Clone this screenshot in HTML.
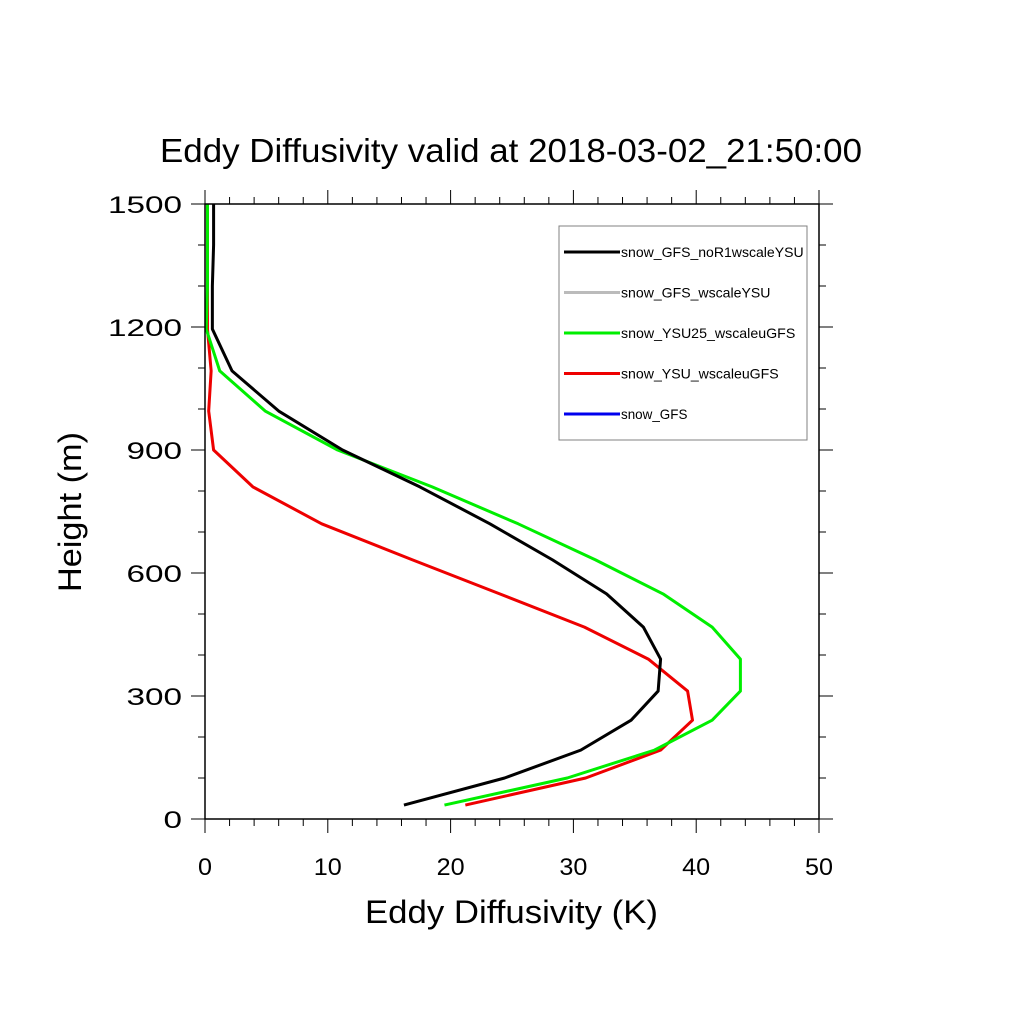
<!DOCTYPE html>
<html><head><meta charset="utf-8"><style>
html,body{margin:0;padding:0;background:#fff}
svg text{font-family:"Liberation Sans",sans-serif}
</style></head><body>
<svg id="chart" width="1024" height="1024" viewBox="0 0 1024 1024" xmlns="http://www.w3.org/2000/svg">
<rect width="1024" height="1024" fill="#fff"/>
<text x="160" y="162" font-size="33" textLength="702" lengthAdjust="spacingAndGlyphs">Eddy Diffusivity valid at 2018-03-02_21:50:00</text>
<g id="axes"></g>
<g id="series"></g>
<rect x="205" y="204" width="614" height="615" fill="none" stroke="#000" stroke-width="1.5"/>
<text x="365" y="923" font-size="32" textLength="293" lengthAdjust="spacingAndGlyphs">Eddy Diffusivity (K)</text>
<text transform="translate(81,592) rotate(-90)" font-size="32" textLength="160" lengthAdjust="spacingAndGlyphs">Height (m)</text>
<g>
<rect x="559" y="226" width="248" height="214" fill="#fff" stroke="#808080" stroke-width="1"/>
<g id="legend-items"></g>
</g>
</svg>
<script>
const heights=[34,100,168,241,312,390,468,549,632,720,810,900,995,1093,1195,1300,1400,1500];
const blackVals=[16.2,24.4,30.6,34.7,36.9,37.1,35.7,32.7,28.3,23.2,17.5,11.2,6.0,2.2,0.6,0.6,0.7,0.7];
const greenVals=[19.5,29.5,36.6,41.3,43.6,43.6,41.3,37.3,31.8,25.5,18.5,10.8,4.9,1.2,0.1,0.2,0.2,0.2];
const redVals=[21.2,31.0,37.1,39.7,39.3,36.1,30.9,24.0,16.9,9.5,3.9,0.7,0.3,0.5,0.2,0.2,0.2,0.2];
const xTicks=[0,10,20,30,40,50];
const yTicks=[0,300,600,900,1200,1500];
const legendNames=["snow_GFS_noR1wscaleYSU","snow_GFS_wscaleYSU","snow_YSU25_wscaleuGFS","snow_YSU_wscaleuGFS","snow_GFS"];
const legendColors=["#000","#bbb","#00ee00","#ee0000","#0000ee"];
const NS="http://www.w3.org/2000/svg";
const X=v=>205+v*614/50, Y=v=>819-v*615/1500;
function mk(t,a,p){const e=document.createElementNS(NS,t);for(const k in a)e.setAttribute(k,a[k]);p.appendChild(e);return e;}
const ax=document.getElementById('axes');
for(let v=0;v<=50;v+=2){const maj=v%10===0,L=maj?14:7,x=X(v);
const t1=mk('line',{x1:x,x2:x,y1:819,y2:819+L,stroke:'#000','stroke-width':1},ax);

const t2=mk('line',{x1:x,x2:x,y1:204,y2:204-L,stroke:'#000','stroke-width':1},ax);
}
for(let v=0;v<=1500;v+=100){const maj=v%300===0,L=maj?14:7,y=Y(v);
const t1=mk('line',{x1:205,x2:205-L,y1:y,y2:y,stroke:'#000','stroke-width':1},ax);

const t2=mk('line',{x1:819,x2:819+L,y1:y,y2:y,stroke:'#000','stroke-width':1},ax);
}
xTicks.forEach(v=>{const s=String(v);const w=s.length*14;
const t=mk('text',{x:X(v)-w/2,y:875,'font-size':24,textLength:w,lengthAdjust:'spacingAndGlyphs'},ax);t.textContent=s;
});
yTicks.forEach(v=>{const s=String(v);const w=s.length*18.5;
const t=mk('text',{x:182-w,y:Y(v)+9,'font-size':24,textLength:w,lengthAdjust:'spacingAndGlyphs'},ax);t.textContent=s;
});
const sg=document.getElementById('series');
[[redVals,'#ee0000','line-snow-ysu-wscaleugfs'],[greenVals,'#00ee00','line-snow-ysu25-wscaleugfs'],[blackVals,'#000','line-snow-gfs-nor1wscaleysu']].forEach(([vals,c,n])=>{
const p=mk('polyline',{points:vals.map((v,i)=>X(v)+','+Y(heights[i])).join(' '),fill:'none',stroke:c,'stroke-width':3,'stroke-linejoin':'round'},sg);
});
const lg=document.getElementById('legend-items');
legendNames.forEach((n,i)=>{const y=252+i*40.5;
const l=mk('line',{x1:564,x2:620,y1:y,y2:y,stroke:legendColors[i],'stroke-width':3},lg);

const t=mk('text',{x:621,y:y+5,'font-size':14,textLength:n.length*8.3,lengthAdjust:'spacingAndGlyphs'},lg);t.textContent=n;
});
</script>
</body></html>
